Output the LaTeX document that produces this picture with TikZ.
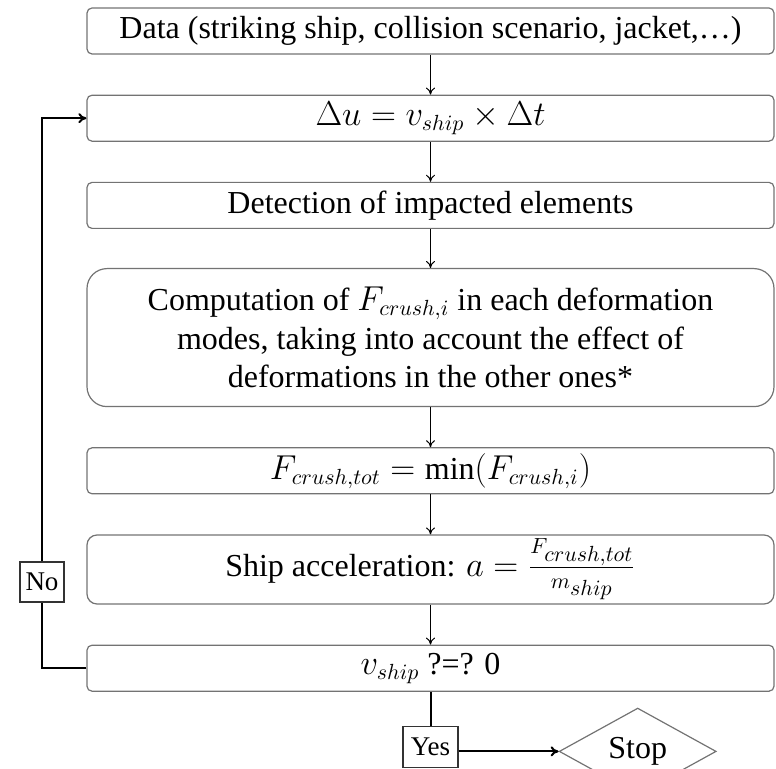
\documentclass[tikz,border=0pt]{standalone}
\usepackage{amsmath}
\usepackage{fontspec}
\setmainfont{Liberation Serif}
\usetikzlibrary{arrows.meta, positioning, shapes.geometric}
\tikzset{
    procbox/.style={draw=black!55, line width=0.6pt, rounded corners=2.5pt,
        minimum width=343.5pt, minimum height=23pt, inner sep=0pt, align=center,
        font=\fontsize{16}{19.25}\selectfont},
    flow/.style={-{To[length=3.5pt,width=4.5pt]}, line width=0.5pt},
    loopline/.style={line width=1pt},
    tagbox/.style={draw=black!80, line width=0.6pt, minimum width=22pt,
        minimum height=20pt, inner sep=0pt, font=\fontsize{13.5}{15}\selectfont},
    stopbox/.style={diamond, draw=black!55, line width=0.6pt, minimum width=78.5pt,
        minimum height=33pt, inner sep=0pt, font=\fontsize{16}{19}\selectfont}
}

\begin{document}
\begin{tikzpicture}[node distance=20pt]
    \clip (0,0) rectangle (388pt,-384.5pt);
    % Main chain
    \node[procbox] (data) at (215.25pt,-15.5pt) {Data (striking ship, collision scenario, jacket,\ldots)};
    \node[procbox, below=of data] (disp) {$\Delta u = v_{ship} \times \Delta t$};
    \node[procbox, below=of disp] (detect) {Detection of impacted elements};
    \node[procbox, below=19.5pt of detect, minimum height=69pt, rounded corners=10pt] (crush)
        {Computation of $F_{crush,i}$ in each deformation\\ modes, taking into account the effect of\\ deformations in the other ones*};
    \node[procbox, below=of crush] (total) {$F_{crush,tot} = \min(F_{crush,i})$};
    \node[procbox, below=of total, minimum height=34.5pt, rounded corners=5pt] (accel)
        {Ship acceleration: $a = \frac{F_{\scriptstyle crush,tot}}{m_{\scriptstyle ship}}$};
    \node[procbox, below=of accel] (check) {$v_{ship}$ ?=? 0};
    % Decision
    \node[tagbox, below=17pt of check, minimum width=27.5pt, minimum height=20.5pt] (yes) {Yes};
    \node[stopbox, right=50pt of yes, yshift=-2.25pt] (stop) {Stop};
    \node[tagbox] (no) at (21pt,-291pt) {No};
    % Arrows
    \draw[flow] (data) -- (disp);
    \draw[flow] (disp) -- (detect);
    \draw[flow] (detect) -- (crush);
    \draw[flow] (crush) -- (total);
    \draw[flow] (total) -- (accel);
    \draw[flow] (accel) -- (check);
    \draw[loopline] (check) -- (yes);
    \draw[loopline, -{To[length=4pt,width=5pt]}] (yes.east |- stop.west) -- (stop.west);
    % Loop back
    \draw[loopline] (check.west) -| (no.south);
    \draw[loopline, -{To[length=4pt,width=5pt]}] (no.north) |- (disp.west);
\end{tikzpicture}
\end{document}
